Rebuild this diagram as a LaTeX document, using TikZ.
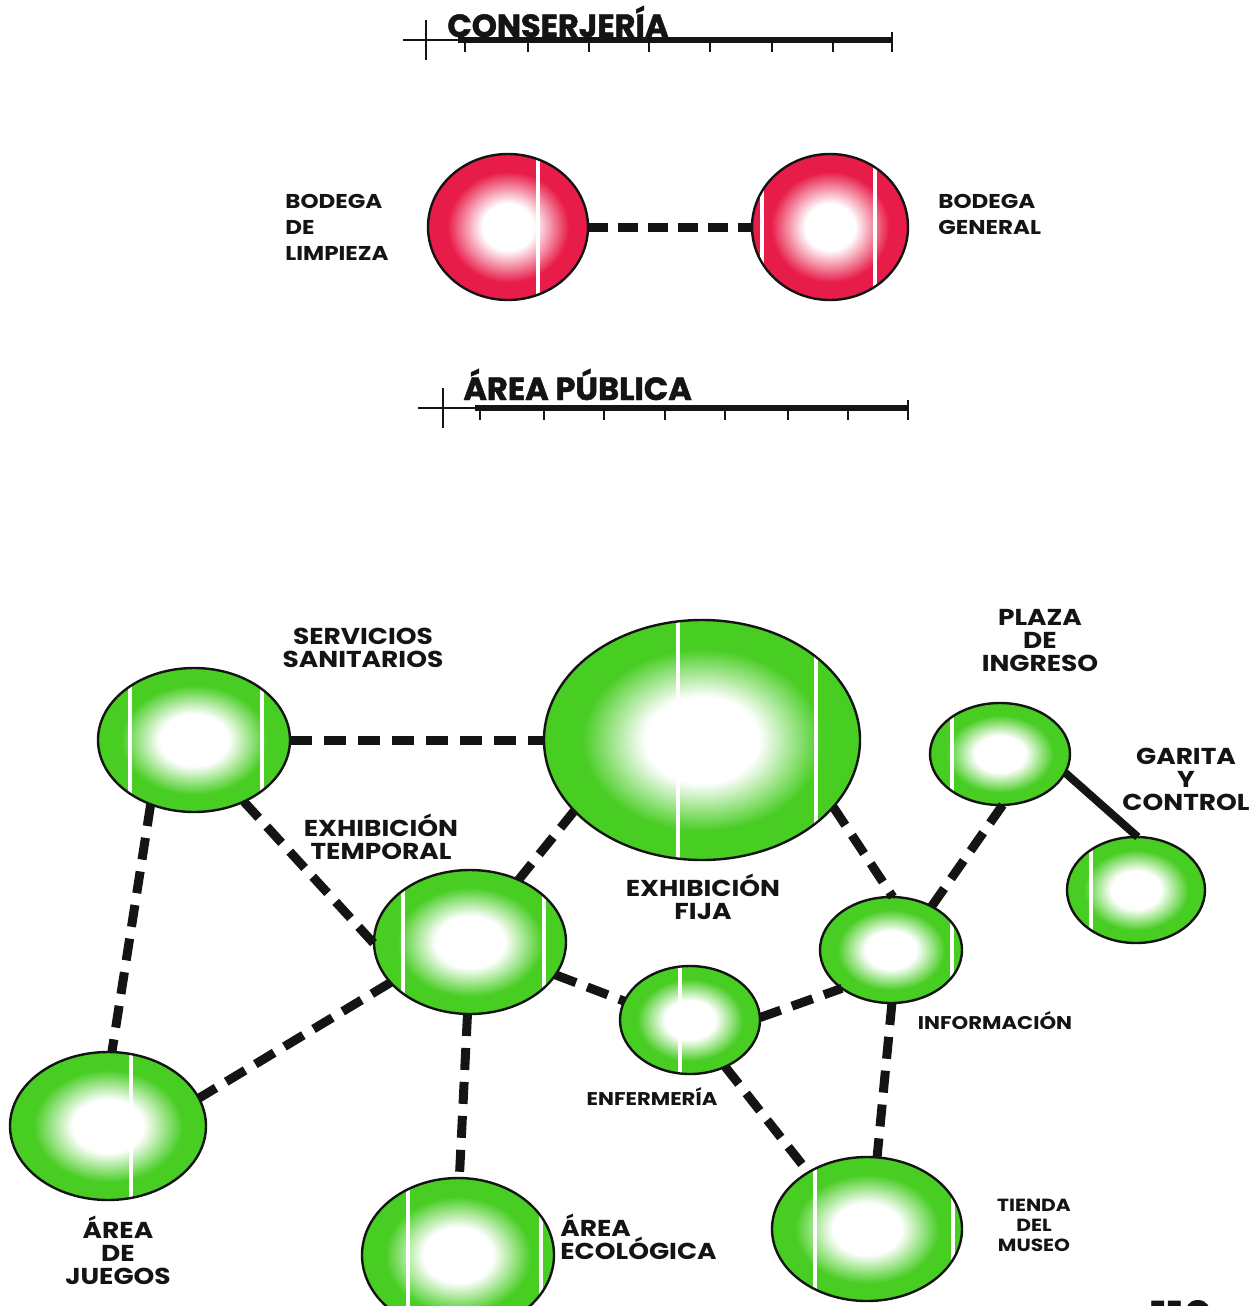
\documentclass[tikz,border=0pt]{standalone}
\usepackage{fontspec}
\setmainfont{Poppins}
\newfontfamily\widefont{Poppins}[FakeStretch=1.15]
\newfontfamily\headfont{Poppins}[FakeBold=1.5]
\usetikzlibrary{shapes.geometric}
\definecolor{ggreen}{RGB}{72,205,35}
\definecolor{rred}{RGB}{232,28,72}
\definecolor{inkc}{RGB}{20,20,20}
\pgfdeclareradialshading{gball}{\pgfpoint{0bp}{0bp}}{color(0bp)=(white); color(9bp)=(white); color(19bp)=(ggreen); color(25bp)=(ggreen); color(50bp)=(ggreen)}
\pgfdeclareradialshading{rball}{\pgfpoint{0bp}{0bp}}{color(0bp)=(white); color(8bp)=(white); color(19bp)=(rred); color(25bp)=(rred); color(50bp)=(rred)}
\tikzset{
  ballline/.style={ellipse, draw=inkc, line width=1.2pt, inner sep=0pt, outer sep=0pt},
  conn/.style={draw=inkc, line width=4.5pt, dash pattern=on 11pt off 6pt},
  solidconn/.style={draw=inkc, line width=4pt},
  lbl/.style={font=\widefont\bfseries\fontsize{11.5}{11.5}\selectfont, align=center, inner sep=0pt, text=inkc},
  lbls/.style={font=\widefont\bfseries\fontsize{9.2}{10}\selectfont, align=center, inner sep=0pt, text=inkc},
  lblt/.style={font=\widefont\bfseries\fontsize{8.8}{10}\selectfont, align=center, inner sep=0pt, text=inkc},
  lblr/.style={font=\widefont\bfseries\fontsize{10}{13}\selectfont, align=left, inner sep=0pt, text=inkc, anchor=west},
  hdr/.style={font=\headfont\bfseries\fontsize{16}{16}\selectfont, inner sep=0pt, text=inkc, anchor=base west},
  thinrule/.style={draw=inkc, line width=0.8pt},
  thickrule/.style={draw=inkc, line width=3pt},
  tick/.style={draw=inkc, line width=1.2pt}
}
\newcommand\ballnode[7]{%
  \path[shading=#7] (#2,#3) ellipse [x radius=#4, y radius=#5];
  \begin{scope}
    \clip (#2,#3) ellipse [x radius=#4, y radius=#5];
    \foreach \lx in {#6}{\draw[white, line width=1.8pt] (\lx,#3-#5) -- (\lx,#3+#5);}
  \end{scope}
  \node[ballline, minimum width=#4pt, minimum height=#5pt] (#1) at (#2,#3) {};
}
\newcommand\rulerbar[6]{% x0, xcross, xstart, xend, y, ticks
  \draw[thinrule] (#1,#5) -- (#3,#5);
  \draw[thinrule] (#2,#5-20) -- (#2,#5+20);
  \draw[thickrule] (#3,#5) -- (#4,#5);
  \foreach \tx in {#6}{\draw[tick] (\tx,#5) -- (\tx,#5+12);}
  \draw[tick] (#4,#5-8) -- (#4,#5+12);
}
\begin{document}
\begin{tikzpicture}[x=0.5pt, y=-0.5pt]
\useasboundingbox (0,0) rectangle (1256,1306);
\clip (0,0) rectangle (1256,1306);
\fill[white] (0,0) rectangle (1256,1306);

% headers
\rulerbar{403}{426}{458}{892}{40}{465,528,589,649,710,772,833}
\node[hdr] (hconser) at (447,37) {CONSERJERÍA};
\rulerbar{418}{443}{475}{908}{408}{480,544,604,665,725,788,848}
\node[hdr] (harea) at (463,400) {ÁREA PÚBLICA};

% red nodes
\ballnode{rl}{508}{227}{80}{73}{538}{rball}
\ballnode{rr}{830}{227}{78}{73}{762,875}{rball}
\draw[conn, dash pattern=on 10pt off 5pt] (rl.east) -- (rr.west);
\node[lblr] (lrl) at (285,227) {BODEGA\\DE\\LIMPIEZA};
\node[lblr] (lrr) at (938,214) {BODEGA\\GENERAL};

% green nodes
\ballnode{san}{194}{740}{96}{72}{130,262}{gball}
\ballnode{fija}{702}{740}{158}{120}{678,816}{gball}
\ballnode{plaza}{1000}{754}{70}{51}{952}{gball}
\ballnode{gar}{1136}{890}{69}{53}{1091}{gball}
\ballnode{tem}{470}{942}{96}{72}{403,544}{gball}
\ballnode{info}{891}{950}{71}{53}{952}{gball}
\ballnode{enf}{690}{1020}{70}{54}{680}{gball}
\ballnode{jue}{108}{1126}{98}{74}{131}{gball}
\ballnode{eco}{458}{1255}{96}{77}{408,541}{gball}
\ballnode{tie}{867}{1229}{95}{72}{815,953}{gball}

% connectors
\draw[conn] (san) -- (fija);
\draw[conn] (san.236) -- (jue.87);
\draw[conn] (san.309) -- (tem.181);
\draw[conn] (fija.209) -- (tem.52);
\draw[conn] (fija.333) -- (info.88);
\draw[conn] (tem.207) -- (jue.17);
\draw[conn] (tem.268) -- (eco.89);
\draw[conn] (tem.339) -- (enf.164);
\draw[conn] (enf.2) -- (info.218);
\draw[conn] (enf.307) -- (tie.136);
\draw[conn] (info.271) -- (tie.82);
\draw[conn] (info.47) -- (plaza.273);
\draw[solidconn] (plaza.344) -- (gar.88);

% labels
\node[lbl] (lsan) at (363,648) {SERVICIOS\\SANITARIOS};
\node[lbl] (ltem) at (381,837) {EXHIBICIÓN\\TEMPORAL};
\node[lbl] (lfija) at (703,897) {EXHIBICIÓN\\FIJA};
\node[lbl] (lplaza) at (1040,640) {PLAZA\\DE\\INGRESO};
\node[lbl] (lgar) at (1186,779) {GARITA\\Y\\CONTROL};
\node[lbls] (linfo) at (995,1021) {INFORMACIÓN};
\node[lbls] (lenf) at (652,1097) {ENFERMERÍA};
\node[lbl] (ljue) at (118,1250) {ÁREA\\DE\\JUEGOS};
\node[lbl, align=left, anchor=west] (leco) at (560,1237) {ÁREA\\ECOLÓGICA};
\node[lblt] (ltie) at (1034,1225) {TIENDA\\DEL\\MUSEO};
\node[font=\headfont\bfseries\fontsize{22}{22}\selectfont, anchor=north west, inner sep=0pt, text=inkc] (pg) at (1150,1300) {110};
\end{tikzpicture}
\end{document}
